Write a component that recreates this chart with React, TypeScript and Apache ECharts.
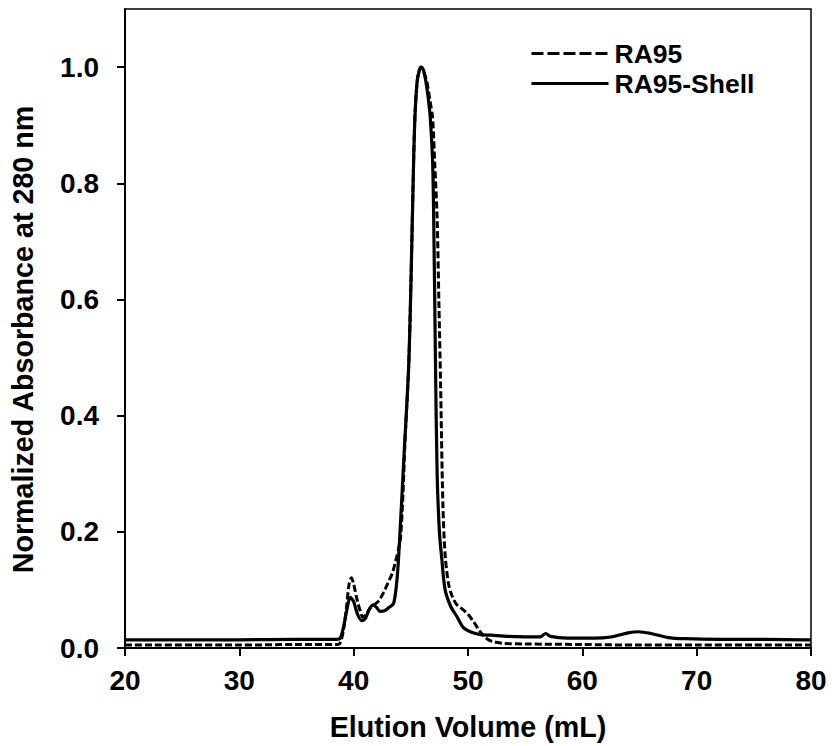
import React, { useEffect, useRef } from "react";
import * as echarts from "echarts";

const xTicks = [20, 30, 40, 50, 60, 70, 80];
const yTicks = [0, 0.2, 0.4, 0.6, 0.8, 1.0];

// RA95 (dashed)
const ra95X = [20, 30, 35, 38.5, 38.8, 39.1, 39.4, 39.6, 39.8, 40.0, 40.3, 40.6, 40.8, 41.1, 41.5, 41.9, 42.2, 42.6, 43.0, 43.4, 43.7, 43.9, 44.1, 44.3, 44.5, 44.8, 45.0, 45.2, 45.35, 45.55, 45.75, 45.95, 46.15, 46.4, 46.65, 46.9, 47.1, 47.3, 47.45, 47.6, 47.8, 48.0, 48.3, 48.6, 49.0, 49.5, 50.0, 50.5, 51.0, 51.4, 51.8, 52.2, 53, 55, 60, 65, 70, 75, 80];
const ra95Y = [0.005, 0.005, 0.006, 0.006, 0.008, 0.03, 0.075, 0.11, 0.121, 0.11, 0.083, 0.062, 0.053, 0.058, 0.07, 0.076, 0.081, 0.095, 0.112, 0.13, 0.152, 0.168, 0.19, 0.26, 0.36, 0.48, 0.62, 0.8, 0.91, 0.975, 0.995, 0.998, 0.99, 0.975, 0.945, 0.913, 0.83, 0.74, 0.6, 0.456, 0.25, 0.16, 0.11, 0.09, 0.075, 0.067, 0.058, 0.045, 0.03, 0.02, 0.014, 0.011, 0.008, 0.007, 0.006, 0.005, 0.005, 0.005, 0.005];

// RA95-Shell (solid)
const shellX = [20, 30, 35, 38.5, 38.8, 39.1, 39.4, 39.7, 40.0, 40.3, 40.7, 41.0, 41.4, 41.7, 42.0, 42.3, 42.7, 43.1, 43.5, 43.8, 44.0, 44.4, 44.8, 45.0, 45.2, 45.35, 45.55, 45.75, 45.9, 46.1, 46.3, 46.5, 46.7, 46.9, 47.0, 47.15, 47.3, 47.5, 47.7, 48.0, 48.5, 49.0, 49.6, 50.2, 51.1, 52, 53.5, 56.3, 56.8, 57.2, 58.7, 61, 62.5, 64, 64.9, 66, 67.5, 69, 72, 76, 80];
const shellY = [0.014, 0.014, 0.015, 0.015, 0.016, 0.035, 0.065, 0.087, 0.08, 0.06, 0.047, 0.05, 0.068, 0.074, 0.07, 0.063, 0.064, 0.07, 0.077, 0.12, 0.18, 0.33, 0.48, 0.62, 0.8, 0.91, 0.975, 0.995, 1.0, 0.995, 0.977, 0.95, 0.913, 0.84, 0.74, 0.5, 0.3, 0.2, 0.155, 0.1, 0.071, 0.055, 0.035, 0.028, 0.023, 0.022, 0.02, 0.019, 0.025, 0.02, 0.017, 0.017, 0.019, 0.026, 0.028, 0.025, 0.018, 0.016, 0.015, 0.015, 0.014];

const FONT = '"Liberation Sans", Arial, sans-serif';

const legendBase = {
  orient: "vertical",
  left: 530,
  padding: 0,
  itemWidth: 77,
  itemHeight: 14,
  itemGap: 0,
  selectedMode: false,
  itemStyle: { opacity: 0, borderWidth: 0 },
  textStyle: {
    fontFamily: FONT,
    fontWeight: "bold",
    fontSize: 26.5,
    color: "#000",
    padding: [0, 0, 0, 1],
    lineHeight: 24,
  },
};

export default function App() {
  const ref = useRef<HTMLDivElement>(null);
  useEffect(() => {
    if (!ref.current) return;
    const chart = echarts.init(ref.current, undefined, { renderer: "svg" });
    chart.setOption({
      animation: false,
      backgroundColor: "#fff",
      grid: {
        left: 124,
        right: 23,
        top: 9,
        bottom: 98,
        show: true,
        borderColor: "#000",
        borderWidth: 1.5,
        containLabel: false,
      },
      legend: [
        {
          ...legendBase,
          top: 40,
          data: [{ name: "RA95", lineStyle: { color: "#000", width: 3, type: [12, 4] } }],
        },
        {
          ...legendBase,
          top: 70,
          data: [{ name: "RA95-Shell", lineStyle: { color: "#000", width: 3, type: "solid" } }],
        },
      ],
      xAxis: {
        type: "value",
        min: 20,
        max: 80,
        interval: 10,
        name: "Elution Volume (mL)",
        nameLocation: "middle",
        nameGap: 64,
        nameTextStyle: { fontFamily: FONT, fontWeight: "bold", fontSize: 28.7, color: "#000" },
        axisLine: { show: true, onZero: false, lineStyle: { color: "#000", width: 2 } },
        axisTick: { show: true, inside: false, length: 8, lineStyle: { color: "#000", width: 2 }, customValues: xTicks },
        axisLabel: {
          fontFamily: FONT,
          fontWeight: "bold",
          fontSize: 28,
          color: "#000",
          margin: 18,
          customValues: xTicks,
        },
        splitLine: { show: false },
      },
      yAxis: {
        type: "value",
        min: 0,
        max: 1.1,
        interval: 0.2,
        name: "Normalized Absorbance at 280 nm",
        nameLocation: "middle",
        nameGap: 88,
        nameTextStyle: { fontFamily: FONT, fontWeight: "bold", fontSize: 28.7, color: "#000", padding: [0, 22, 0, 0] },
        axisLine: { show: true, lineStyle: { color: "#000", width: 2 } },
        axisTick: { show: true, inside: false, length: 8, lineStyle: { color: "#000", width: 2 }, customValues: yTicks },
        axisLabel: {
          fontFamily: FONT,
          fontWeight: "bold",
          fontSize: 28,
          color: "#000",
          margin: 26,
          customValues: yTicks,
          formatter: (v: number) => v.toFixed(1),
        },
        splitLine: { show: false },
      },
      series: [
        {
          name: "RA95",
          type: "line",
          data: ra95X.map((x, i) => [x, ra95Y[i]]),
          symbol: "none",
          smooth: 0.3,
          z: 3,
          lineStyle: { color: "#000", width: 3, type: [7, 3] },
          itemStyle: { color: "#000" },
        },
        {
          name: "RA95-Shell",
          type: "line",
          data: shellX.map((x, i) => [x, shellY[i]]),
          symbol: "none",
          smooth: 0.3,
          z: 2,
          lineStyle: { color: "#000", width: 3.2, type: "solid" },
          itemStyle: { color: "#000" },
        },
      ],
    });
    return () => chart.dispose();
  }, []);
  return <div ref={ref} style={{ width: 834, height: 746, position: "absolute", left: 0, top: 0 }} />;
}
